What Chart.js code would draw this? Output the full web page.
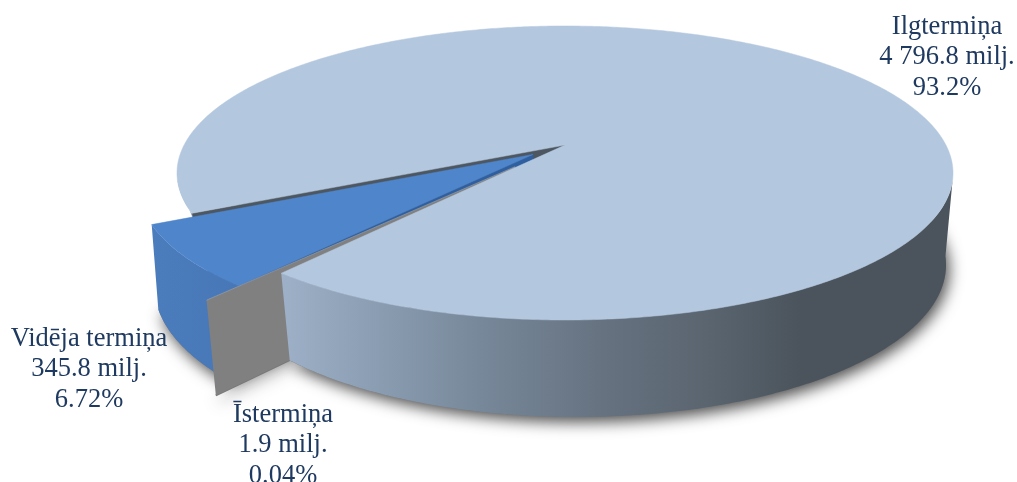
<!DOCTYPE html>
<html>
<head>
<meta charset="utf-8">
<style>html,body{margin:0;padding:0;background:#fff}canvas{display:block}</style>
<script src="https://cdn.jsdelivr.net/npm/chart.js@4"></script>
</head>
<body>
<div style="width:1017px;height:482px"><canvas id="c" width="1017" height="482"></canvas></div>
<script>
const categories = ["Ilgtermiņa", "Īstermiņa", "Vidēja termiņa"];
const valuesMilj = [4796.8, 1.9, 345.8];
const valueLabels = ["4 796.8 milj.", "1.9 milj.", "345.8 milj."];
const shareLabels = ["93.2%", "0.04%", "6.72%"];
const sliceColors = ["#b3c7df", "#a5a5a5", "#4f85cb"];

const TOP = {cx:565, cy:173, rx:388, ry:147, b:-0.19};
const BOT = {cx:577, cy:265, rx:369, ry:152, b:-0.28};
const labelPos = [[947,27],[283,415],[89,339]];
const LINE = 30.5;

function P(pl, u, v){
  const s = Math.sqrt(1 - pl.b*pl.b), d = 1 + pl.b*v;
  return [pl.cx + pl.rx*u*s/d, pl.cy + pl.ry*(v+pl.b)/d];
}
function pt(pl, a, r, e, o){
  return P(pl, r*Math.cos(a)+e*Math.cos(o), r*Math.sin(a)+e*Math.sin(o));
}
function poly(ctx, pts){
  ctx.beginPath();
  pts.forEach((p,i)=> i?ctx.lineTo(p[0],p[1]):ctx.moveTo(p[0],p[1]));
  ctx.closePath();
}
function sector(pl, a0, a1, e, o){
  const pts=[pt(pl,0,0,e,o)], n=Math.max(2,Math.ceil(Math.abs(a1-a0)/0.01));
  for(let i=0;i<=n;i++) pts.push(pt(pl,a0+(a1-a0)*i/n,1,e,o));
  return pts;
}
function arcWall(ctx, a0, a1, eT, eB, o, style){
  const n=Math.max(1,Math.ceil(Math.abs(a1-a0)/0.01)), up=[], down=[];
  for(let i=0;i<=n;i++){
    const x=a0+(a1-a0)*i/n;
    up.push(pt(TOP,x,1,eT,o)); down.unshift(pt(BOT,x,1,eB,o));
  }
  ctx.fillStyle=style;
  poly(ctx,up.concat(down)); ctx.fill();
}
function cutWall(ctx, a, eT, eB, o, color){
  ctx.fillStyle=color; ctx.strokeStyle=color; ctx.lineWidth=0.5;
  poly(ctx,[pt(TOP,0,0,eT,o),pt(TOP,a,1,eT,o),pt(BOT,a,1,eB,o),pt(BOT,0,0,eB,o)]);
  ctx.fill(); ctx.stroke();
}

const pie3d = {
  id:"pie3d",
  beforeDatasetDraw(chart, args){
    const ctx=chart.ctx, arcs=chart.getDatasetMeta(args.index).data;
    const [mainA, shortA, midA]=arcs;
    const midO=(midA.startAngle+midA.endAngle)/2, shortO=(shortA.startAngle+shortA.endAngle)/2;
    const eMidT=0.106, eMidB=0.14, eShort=0.19, eShortT=0.195, shortTopA=shortO+0.02;
    ctx.save();
    // soft shadow cast by the base of each slice
    ctx.shadowColor="rgba(0,0,0,0.7)"; ctx.shadowBlur=15; ctx.shadowOffsetX=3; ctx.shadowOffsetY=5;
    ctx.fillStyle="#777"; ctx.strokeStyle="#777"; ctx.lineWidth=2;
    poly(ctx,sector(BOT,mainA.startAngle,mainA.endAngle,0,0)); ctx.fill();
    poly(ctx,sector(BOT,midA.startAngle,midA.endAngle,eMidB,midO)); ctx.fill();
    poly(ctx,[pt(BOT,shortO,1,eShort,shortO),pt(BOT,0,0,eShort,shortO)]); ctx.stroke();
    ctx.shadowColor="transparent"; ctx.shadowBlur=0; ctx.shadowOffsetX=0; ctx.shadowOffsetY=0;
    // back-left wall and exposed cut face of the large slice
    arcWall(ctx,mainA.startAngle,mainA.startAngle+0.22,0,0,0,"#a9bcd4");
    cutWall(ctx,mainA.startAngle,0,0,0,"#4d5761");
    // medium slice
    cutWall(ctx,midA.startAngle,eMidT,eMidB,midO,"#2f5f9e");
    const g2=ctx.createLinearGradient(150,0,240,0);
    g2.addColorStop(0,"#4b7cbc"); g2.addColorStop(1,"#4777b6");
    arcWall(ctx,midA.startAngle,midA.endAngle,eMidT,eMidB,midO,g2);
    ctx.fillStyle=sliceColors[2]; ctx.strokeStyle=sliceColors[2]; ctx.lineWidth=0.5;
    poly(ctx,sector(TOP,midA.startAngle,midA.endAngle,eMidT,midO)); ctx.fill(); ctx.stroke();
    // tiny slice: only its face shows
    ctx.fillStyle="#808080"; ctx.strokeStyle=sliceColors[1]; ctx.lineWidth=0.6;
    poly(ctx,[pt(TOP,0,0,eShortT,shortTopA),pt(TOP,shortTopA,1,eShortT,shortTopA),
              pt(BOT,shortO,1,eShort,shortO),pt(BOT,0,0,eShort,shortO)]);
    ctx.fill();
    ctx.beginPath();
    const gt0=pt(TOP,0,0,eShortT,shortTopA), gt1=pt(TOP,shortTopA,1,eShortT,shortTopA);
    ctx.moveTo(gt0[0],gt0[1]); ctx.lineTo(gt1[0],gt1[1]); ctx.stroke();
    // front wall of the large slice
    const g=ctx.createLinearGradient(283,0,800,0);
    g.addColorStop(0,"#9db0c7"); g.addColorStop(0.38,"#77889a"); g.addColorStop(0.62,"#667280");
    g.addColorStop(0.82,"#5a6570"); g.addColorStop(1,"#4b545c");
    arcWall(ctx,mainA.endAngle,mainA.endAngle-2.03,0,0,0,g);
    // top of the large slice
    ctx.fillStyle=sliceColors[0]; ctx.strokeStyle=sliceColors[0]; ctx.lineWidth=0.5;
    poly(ctx,sector(TOP,mainA.startAngle,mainA.endAngle,0,0)); ctx.fill(); ctx.stroke();
    ctx.restore();
    return false;
  },
  afterDraw(chart){
    const ctx=chart.ctx;
    ctx.save();
    ctx.font='26.5px "Liberation Serif"';
    ctx.fillStyle="#1f3a60";
    ctx.textAlign="center"; ctx.textBaseline="middle";
    categories.forEach((c,i)=>{
      const [x,y]=labelPos[i];
      [c,valueLabels[i],shareLabels[i]].forEach((t,j)=>ctx.fillText(t,x,y+j*LINE));
    });
    ctx.restore();
  }
};

new Chart(document.getElementById("c"),{
  type:"pie",
  data:{labels:categories,datasets:[{data:valuesMilj,backgroundColor:sliceColors,borderWidth:0}]},
  options:{
    responsive:false,animation:false,rotation:243.8,
    plugins:{legend:{display:false},tooltip:{enabled:false}}
  },
  plugins:[pie3d]
});
</script>
</body>
</html>
